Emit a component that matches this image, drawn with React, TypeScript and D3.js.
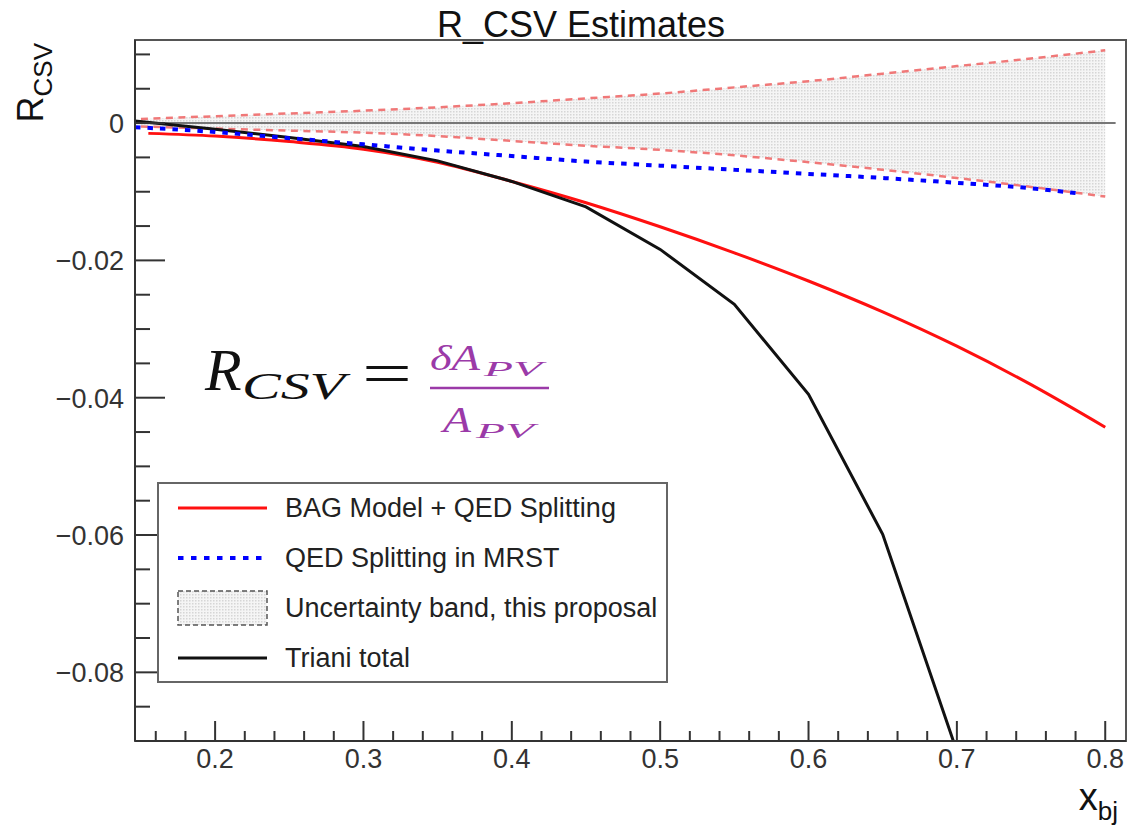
import * as d3 from "d3";

// band (uncertainty, this proposal)
const bandX = [0.15, 0.2, 0.25, 0.3, 0.35, 0.4, 0.45, 0.5, 0.55, 0.6, 0.65, 0.7, 0.75, 0.8];
const bandUpper = [0.0006, 0.001, 0.0014, 0.0018, 0.0023, 0.0029, 0.0036, 0.0043, 0.0052, 0.0061, 0.0072, 0.0083, 0.0094, 0.0106];
const bandLower = [-0.0005, -0.0008, -0.0011, -0.0014, -0.0019, -0.0026, -0.0033, -0.0039, -0.0047, -0.0057, -0.0068, -0.008, -0.0093, -0.0107];

// BAG Model + QED Splitting
const bagX = [0.155, 0.2, 0.25, 0.3, 0.35, 0.4, 0.45, 0.5, 0.55, 0.6, 0.65, 0.7, 0.75, 0.8];
const bagY = [-0.0015, -0.0019, -0.0027, -0.0038, -0.0057, -0.0085, -0.0116, -0.0151, -0.0189, -0.023, -0.0275, -0.0325, -0.0381, -0.0443];

// QED Splitting in MRST
const mrstX = [0.146, 0.2, 0.25, 0.3, 0.35, 0.4, 0.45, 0.5, 0.55, 0.6, 0.65, 0.7, 0.75, 0.78];
const mrstY = [-0.0006, -0.0013, -0.0022, -0.0031, -0.004, -0.0048, -0.0056, -0.0062, -0.0068, -0.0074, -0.008, -0.0087, -0.0095, -0.0102];

// Triani total
const trianiX = [0.146, 0.2, 0.25, 0.3, 0.35, 0.4, 0.45, 0.5, 0.55, 0.6, 0.65, 0.7];
const trianiY = [0.0003, -0.0009, -0.0021, -0.0034, -0.0055, -0.0085, -0.0122, -0.0184, -0.0264, -0.0395, -0.0599, -0.0915];

const zeroLine = [0.146, 0.807];

const xMajor = [0.2, 0.3, 0.4, 0.5, 0.6, 0.7, 0.8];
const yMajor = [0, -0.02, -0.04, -0.06, -0.08];

const legendItems = [
  "BAG Model + QED Splitting",
  "QED Splitting in MRST",
  "Uncertainty band, this proposal",
  "Triani total",
];

const SANS = "'Liberation Sans', Arial, Helvetica, sans-serif";
const SERIF = "'Liberation Serif', 'Times New Roman', serif";
const PURPLE = "#9b3aa8";

export default function App() {
  const xs = d3.scaleLinear().domain([0.146, 0.814]).range([135, 1126]);
  const ys = d3.scaleLinear().domain([-0.09, 0.0121]).range([741, 40]);
  const [x0, x1] = xs.range();
  const [y0, y1] = ys.range();

  const smooth = d3.line<number[]>().x(d => xs(d[0])).y(d => ys(d[1])).curve(d3.curveMonotoneX);
  const straight = d3.line<number[]>().x(d => xs(d[0])).y(d => ys(d[1]));
  const area = d3.area<number>()
    .x((d, i) => xs(bandX[i]))
    .y0((d, i) => ys(bandLower[i]))
    .y1((d, i) => ys(bandUpper[i]))
    .curve(d3.curveMonotoneX);

  const zip = (a: number[], b: number[]) => a.map((v, i) => [v, b[i]]);

  // minor ticks
  const xMinor = d3.range(0.16, 0.814, 0.02).filter(v => !xMajor.some(m => Math.abs(m - v) < 1e-6));
  const yMinor = d3.range(-0.085, 0.0121, 0.005).filter(v => !yMajor.some(m => Math.abs(m - v) < 1e-6));

  const fmtY = (v: number) => (v === 0 ? "0" : "\u2212" + d3.format(".2f")(-v));

  // legend geometry
  const lg = { x: 158, y: 483, w: 509, h: 199 };
  const rowY = [508, 558, 608, 658];

  return (
    <svg width={1133} height={825} style={{ position: "absolute", left: 0, top: 0, background: "#fff" }}>
      <defs>
        <clipPath id="plot">
          <rect x={x0} y={y1} width={x1 - x0} height={y0 - y1} />
        </clipPath>
        <pattern id="dots" width={3} height={3} patternUnits="userSpaceOnUse">
          <rect width={3} height={3} fill="#f5f5f5" />
          <rect width={1.5} height={1.5} fill="#d6d6d6" />
        </pattern>
      </defs>

      {/* title */}
      <text x={581} y={37} textAnchor="middle" fontFamily={SANS} fontSize={36} fill="#111">
        R_CSV Estimates
      </text>

      <g clipPath="url(#plot)">
        <path d={area(bandX) || ""} fill="url(#dots)" />
        <path d={straight(zeroLine.map(v => [v, 0])) || ""} stroke="#777" strokeWidth={2} fill="none" />
        <path d={smooth(zip(bandX, bandUpper)) || ""} stroke="#f07878" strokeWidth={2.5} strokeDasharray="7 5.5" fill="none" />
        <path d={smooth(zip(bandX, bandLower)) || ""} stroke="#f07878" strokeWidth={2.5} strokeDasharray="7 5.5" fill="none" />
        <path d={smooth(zip(bagX, bagY)) || ""} stroke="#ff1010" strokeWidth={3} fill="none" />
        <path d={straight(zip(trianiX, trianiY)) || ""} stroke="#111" strokeWidth={3} fill="none" />
        <path d={smooth(zip(mrstX, mrstY)) || ""} stroke="#0000ff" strokeWidth={4} strokeDasharray="5.5 7" fill="none" />
      </g>

      {/* frame */}
      <rect x={x0} y={y1} width={x1 - x0} height={y0 - y1} fill="none" stroke="#555" strokeWidth={2} />

      {/* ticks */}
      <g stroke="#333" strokeWidth={2}>
        {xMajor.map(v => <line key={"xM" + v} x1={xs(v)} x2={xs(v)} y1={y0} y2={y0 - 20} />)}
        {xMinor.map(v => <line key={"xm" + v} x1={xs(v)} x2={xs(v)} y1={y0} y2={y0 - 10} />)}
        {yMajor.map(v => <line key={"yM" + v} x1={x0} x2={x0 + 30} y1={ys(v)} y2={ys(v)} />)}
        {yMinor.map(v => <line key={"ym" + v} x1={x0} x2={x0 + 15} y1={ys(v)} y2={ys(v)} />)}
      </g>
      <line x1={x0} x2={x0} y1={y1} y2={y0} stroke="#333" strokeWidth={2} />
      <line x1={x0} x2={x1} y1={y0} y2={y0} stroke="#333" strokeWidth={2} />

      {xMajor.map(v => (
        <text key={"xl" + v} x={xs(v)} y={768} textAnchor="middle" fontFamily={SANS} fontSize={27} fill="#333">
          {d3.format(".1f")(v)}
        </text>
      ))}
      {yMajor.map(v => (
        <text key={"yl" + v} x={124} y={ys(v) + 10} textAnchor="end" fontFamily={SANS} fontSize={27} fill="#333">
          {fmtY(v)}
        </text>
      ))}

      {/* axis titles */}
      <text transform="translate(43,43) rotate(-90)" textAnchor="end" fontFamily={SANS} fontSize={36} fill="#111">
        R<tspan fontSize={26} dy={9}>CSV</tspan>
      </text>
      <text x={1118} y={810} textAnchor="end" fontFamily={SANS} fontSize={38} fill="#111">
        x<tspan fontSize={26} dy={10}>bj</tspan>
      </text>

      {/* formula */}
      <g fontFamily={SERIF} fontStyle="italic" fill="#111">
        <text x={205} y={390} fontSize={60}>R</text>
        <text x={242} y={399} fontSize={38} textLength={103} lengthAdjust="spacingAndGlyphs">CSV</text>
        <text x={362} y={394} fontSize={62} fontStyle="normal" textLength={50} lengthAdjust="spacingAndGlyphs">=</text>
      </g>
      <g fontFamily={SERIF} fontStyle="italic" fill={PURPLE}>
        <text x={430} y={370} fontSize={36} textLength={50} lengthAdjust="spacingAndGlyphs">δA</text>
        <text x={484} y={376} fontSize={22} textLength={58} lengthAdjust="spacingAndGlyphs">PV</text>
        <text x={443} y={432} fontSize={36} textLength={28} lengthAdjust="spacingAndGlyphs">A</text>
        <text x={476} y={438} fontSize={22} textLength={58} lengthAdjust="spacingAndGlyphs">PV</text>
      </g>
      <line x1={430} x2={549} y1={388} y2={388} stroke={PURPLE} strokeWidth={2.5} />

      {/* legend */}
      <rect x={lg.x} y={lg.y} width={lg.w} height={lg.h} fill="#fff" stroke="#666" strokeWidth={2} />
      <line x1={178} x2={267} y1={rowY[0]} y2={rowY[0]} stroke="#ff1010" strokeWidth={3} />
      <line x1={178} x2={267} y1={rowY[1]} y2={rowY[1]} stroke="#0000ff" strokeWidth={4} strokeDasharray="5.5 7.5" />
      <rect x={178} y={rowY[2] - 17} width={89} height={34} fill="url(#dots)" stroke="#555" strokeWidth={1.5} strokeDasharray="5 3" />
      <line x1={178} x2={267} y1={rowY[3]} y2={rowY[3]} stroke="#111" strokeWidth={3} />
      {legendItems.map((t, i) => (
        <text key={t} x={285} y={rowY[i] + 9} fontFamily={SANS} fontSize={27} fill="#222">
          {t}
        </text>
      ))}
    </svg>
  );
}
